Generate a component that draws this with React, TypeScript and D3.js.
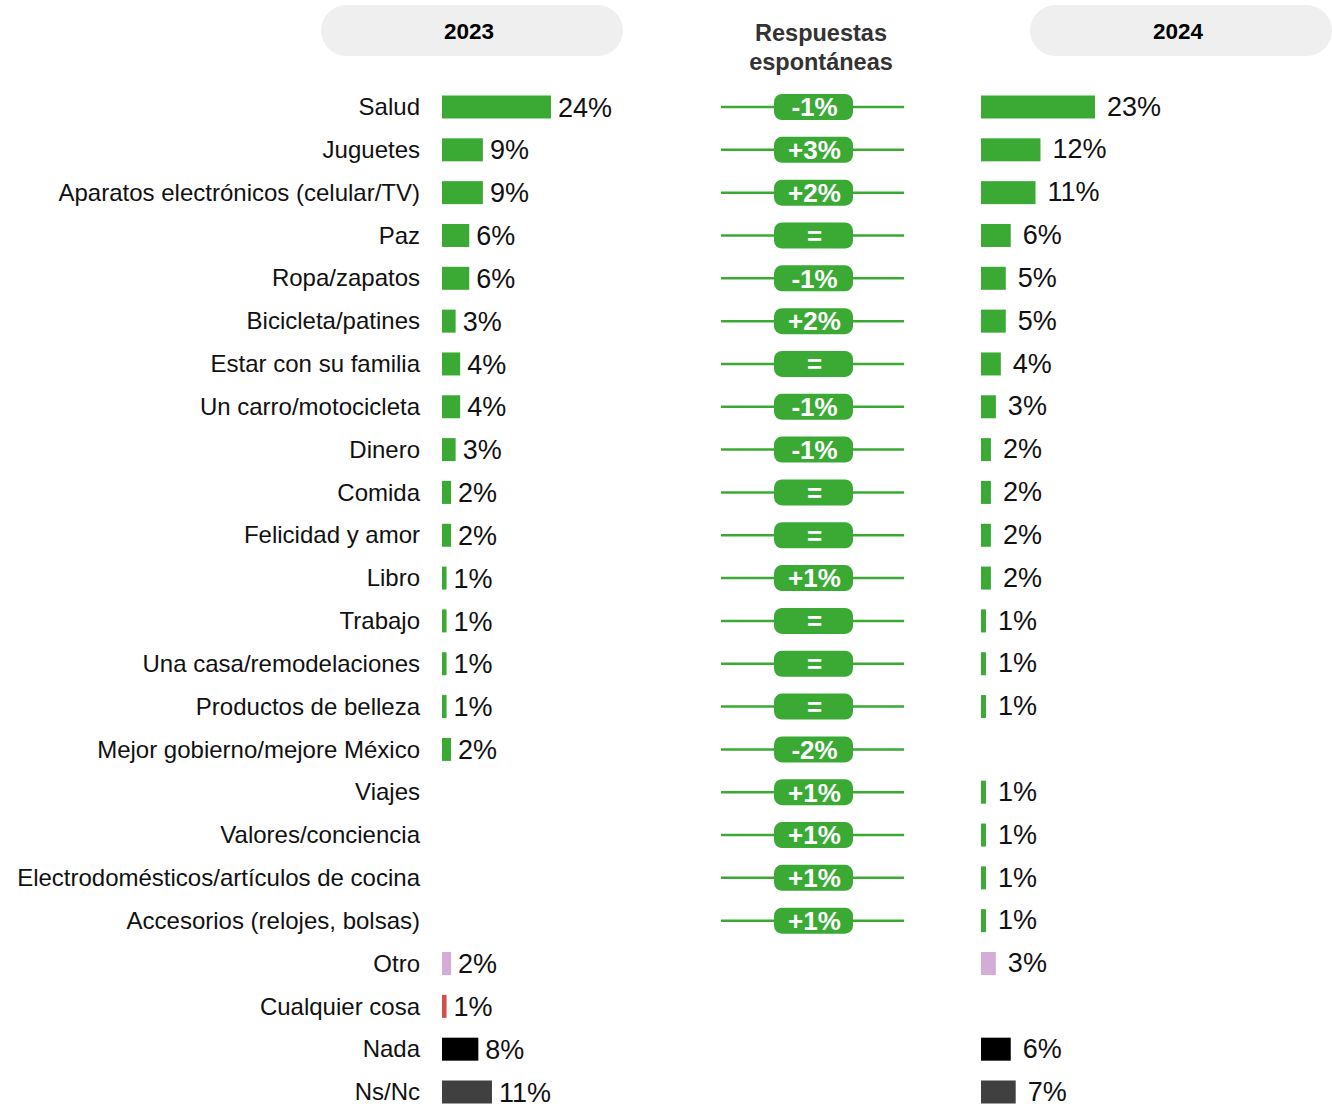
import * as d3 from 'd3';

// Rows, top to bottom
const categories = [
  'Salud',
  'Juguetes',
  'Aparatos electrónicos (celular/TV)',
  'Paz',
  'Ropa/zapatos',
  'Bicicleta/patines',
  'Estar con su familia',
  'Un carro/motocicleta',
  'Dinero',
  'Comida',
  'Felicidad y amor',
  'Libro',
  'Trabajo',
  'Una casa/remodelaciones',
  'Productos de belleza',
  'Mejor gobierno/mejore México',
  'Viajes',
  'Valores/conciencia',
  'Electrodomésticos/artículos de cocina',
  'Accesorios (relojes, bolsas)',
  'Otro',
  'Cualquier cosa',
  'Nada',
  'Ns/Nc',
];

// null = no answer recorded that year
const values2023 = [24, 9, 9, 6, 6, 3, 4, 4, 3, 2, 2, 1, 1, 1, 1, 2, null, null, null, null, 2, 1, 8, 11];
const values2024 = [23, 12, 11, 6, 5, 5, 4, 3, 2, 2, 2, 2, 1, 1, 1, null, 1, 1, 1, 1, 3, null, 6, 7];
const changes = ['-1%', '+3%', '+2%', '=', '-1%', '+2%', '=', '-1%', '-1%', '=', '=', '+1%', '=', '=', '=', '-2%', '+1%', '+1%', '+1%', '+1%', null, null, null, null];

const years = ['2023', '2024'];
const middleTitle = ['Respuestas', 'espontáneas'];

const GREEN = '#3aaa35';
const barColor = (cat: string) => {
  if (cat === 'Otro') return '#d4acd7';
  if (cat === 'Cualquier cosa') return '#d0504c';
  if (cat === 'Nada') return '#000000';
  if (cat === 'Ns/Nc') return '#404040';
  return GREEN;
};

const FONT = '"Liberation Sans", Arial, sans-serif';

export default function App() {
  const width = 1332;
  const height = 1107;

  const y = d3.scalePoint<string>().domain(categories).range([107, 1092]);
  const x23 = d3.scaleLinear().domain([0, 24]).range([0, 109]);
  const x24 = d3.scaleLinear().domain([0, 23]).range([0, 114]);

  const bar23X = 442;
  const bar24X = 981;
  const labelRight = 420;
  const barH = 23;

  const midL = 721;
  const midR = 904;
  const midC = 813.5;
  const pillW = 79;
  const pillH = 26;

  return (
    <svg
      width={width}
      height={height}
      style={{ position: 'absolute', left: 0, top: 0, display: 'block', background: '#fff' }}
      fontFamily={FONT}
    >
      {/* year header pills */}
      {years.map((yr, i) => {
        const px = i === 0 ? 321 : 1030;
        return (
          <g key={yr}>
            <rect x={px} y={5} width={302} height={51} rx={25.5} fill="#efefef" />
            <text x={px + 148} y={31} textAnchor="middle" dy="0.35em" fontSize={22.5} fontWeight="bold" fill="#000">
              {yr}
            </text>
          </g>
        );
      })}

      {/* middle title */}
      {middleTitle.map((t, i) => (
        <text key={t} x={821} y={33 + i * 29} textAnchor="middle" dy="0.35em" fontSize={23.5} fontWeight="bold" fill="#333">
          {t}
        </text>
      ))}

      {categories.map((cat, i) => {
        const cy = y(cat) as number;
        const v23 = values2023[i];
        const v24 = values2024[i];
        const ch = changes[i];
        return (
          <g key={cat}>
            <text x={labelRight} y={cy} textAnchor="end" dy="0.34em" fontSize={24} fill="#111">
              {cat}
            </text>

            {v23 != null && (
              <g>
                <rect x={bar23X} y={cy - barH / 2} width={x23(v23)} height={barH} fill={barColor(cat)} />
                <text x={bar23X + x23(v23) + 7} y={cy + 1} dy="0.32em" fontSize={27} fill="#111">
                  {v23}%
                </text>
              </g>
            )}

            {ch != null && (
              <g>
                <line x1={midL} x2={midR} y1={cy} y2={cy} stroke={GREEN} strokeWidth={2.5} />
                <rect x={midC - pillW / 2} y={cy - pillH / 2} width={pillW} height={pillH} rx={8} fill={GREEN} />
                <text x={midC + 1} y={cy} textAnchor="middle" dy="0.36em" fontSize={26} fontWeight="bold" fill="#fff">
                  {ch}
                </text>
              </g>
            )}

            {v24 != null && (
              <g>
                <rect x={bar24X} y={cy - barH / 2} width={x24(v24)} height={barH} fill={barColor(cat)} />
                <text x={bar24X + x24(v24) + 12} y={cy} dy="0.32em" fontSize={27} fill="#111">
                  {v24}%
                </text>
              </g>
            )}
          </g>
        );
      })}
    </svg>
  );
}
